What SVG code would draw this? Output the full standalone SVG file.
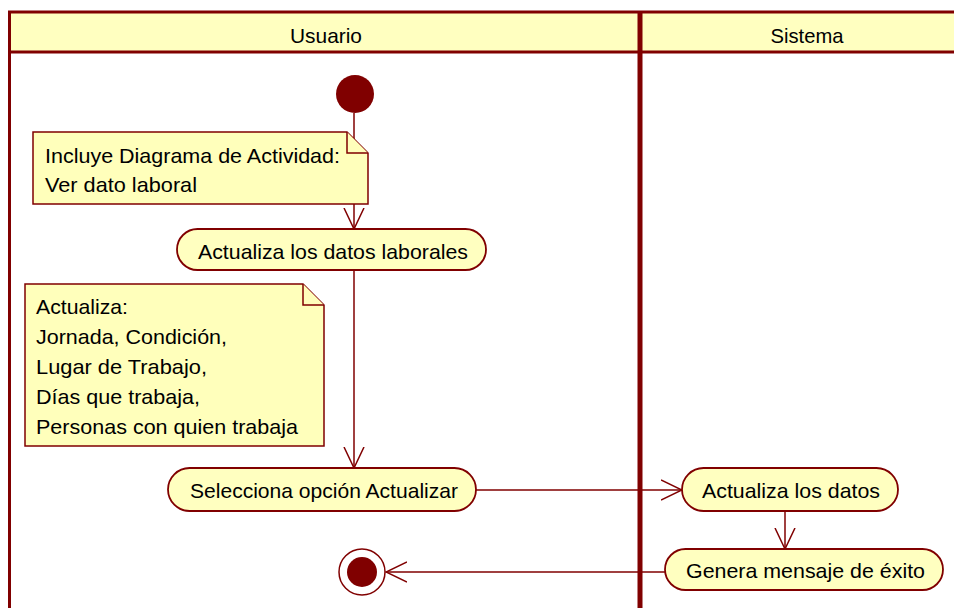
<svg xmlns="http://www.w3.org/2000/svg" width="954" height="608" viewBox="0 0 954 608">
<defs>
<style>
.lane{fill:none;stroke:#800000}
.hdr{fill:#FFFFC0;stroke:none}
.act{fill:#FFFFC0;stroke:#800000;stroke-width:1.8}
.note{fill:#FFFFBB;stroke:#800000;stroke-width:1.5}
.t{font-family:"Liberation Sans",Arial,sans-serif;font-size:21px;fill:#000}
.c{stroke:#800000;stroke-width:1.5;fill:none}
</style>
<marker id="arr" viewBox="0 0 22 22" refX="21" refY="11" markerWidth="22" markerHeight="22" markerUnits="userSpaceOnUse" orient="auto">
<path d="M0,1 L21,11 L0,21" fill="none" stroke="#800000" stroke-width="1.5"/>
</marker>
</defs>
<rect width="954" height="608" fill="#fff"/>
<g id="lanes">
<rect class="hdr" x="9" y="12" width="950" height="40"/>
<line class="lane" x1="8" y1="12" x2="960" y2="12" stroke-width="3"/>
<line class="lane" x1="8" y1="52" x2="960" y2="52" stroke-width="3"/>
<line class="lane" x1="9.5" y1="11" x2="9.5" y2="612" stroke-width="3"/>
<line class="lane" x1="640" y1="11" x2="640" y2="612" stroke-width="5"/>
<text class="t" x="326" y="43" text-anchor="middle" textLength="72" lengthAdjust="spacingAndGlyphs">Usuario</text>
<text class="t" x="807" y="43" text-anchor="middle" textLength="73" lengthAdjust="spacingAndGlyphs">Sistema</text>
</g>
<g id="connectors">
<line class="c" x1="354" y1="113" x2="354" y2="229" marker-end="url(#arr)"/>
<line class="c" x1="354" y1="270" x2="354" y2="468" marker-end="url(#arr)"/>
<line class="c" x1="476" y1="490" x2="682" y2="490" marker-end="url(#arr)"/>
<line class="c" x1="785" y1="511" x2="785" y2="549" marker-end="url(#arr)"/>
<line class="c" x1="665" y1="572" x2="386" y2="572" marker-end="url(#arr)"/>
</g>
<g id="start">
<circle cx="355" cy="94" r="19" fill="#800000"/>
</g>
<g id="note1">
<path class="note" d="M33,132 H347 L368,153 V204 H33 Z"/>
<path class="note" d="M347,132 V153 H368"/>
<text class="t" x="45" y="163" textLength="295" lengthAdjust="spacingAndGlyphs">Incluye Diagrama de Actividad:</text>
<text class="t" x="45" y="192" textLength="152" lengthAdjust="spacingAndGlyphs">Ver dato laboral</text>
</g>
<g id="act1">
<rect class="act" x="177" y="229" width="309" height="41" rx="20.5"/>
<text class="t" x="198" y="259" textLength="270" lengthAdjust="spacingAndGlyphs">Actualiza los datos laborales</text>
</g>
<g id="note2">
<path class="note" d="M25,284 H303 L324,305 V446 H25 Z"/>
<path class="note" d="M303,284 V305 H324"/>
<text class="t" x="36" y="314" textLength="92" lengthAdjust="spacingAndGlyphs">Actualiza:</text>
<text class="t" x="36" y="344" textLength="191" lengthAdjust="spacingAndGlyphs">Jornada, Condición,</text>
<text class="t" x="36" y="374" textLength="171" lengthAdjust="spacingAndGlyphs">Lugar de Trabajo,</text>
<text class="t" x="36" y="404" textLength="164" lengthAdjust="spacingAndGlyphs">Días que trabaja,</text>
<text class="t" x="36" y="434" textLength="262" lengthAdjust="spacingAndGlyphs">Personas con quien trabaja</text>
</g>
<g id="act2">
<rect class="act" x="168" y="468" width="308" height="43" rx="21.5"/>
<text class="t" x="190" y="498" textLength="268" lengthAdjust="spacingAndGlyphs">Selecciona opción Actualizar</text>
</g>
<g id="act3">
<rect class="act" x="682" y="468" width="216" height="43" rx="21.5"/>
<text class="t" x="702" y="498" textLength="178" lengthAdjust="spacingAndGlyphs">Actualiza los datos</text>
</g>
<g id="act4">
<rect class="act" x="665" y="549" width="278" height="41" rx="20.5"/>
<text class="t" x="686" y="578" textLength="239" lengthAdjust="spacingAndGlyphs">Genera mensaje de éxito</text>
</g>
<g id="end">
<circle cx="362" cy="572" r="23" fill="#fff" stroke="#800000" stroke-width="1.5"/>
<circle cx="362" cy="572" r="15" fill="#800000"/>
</g>
</svg>
